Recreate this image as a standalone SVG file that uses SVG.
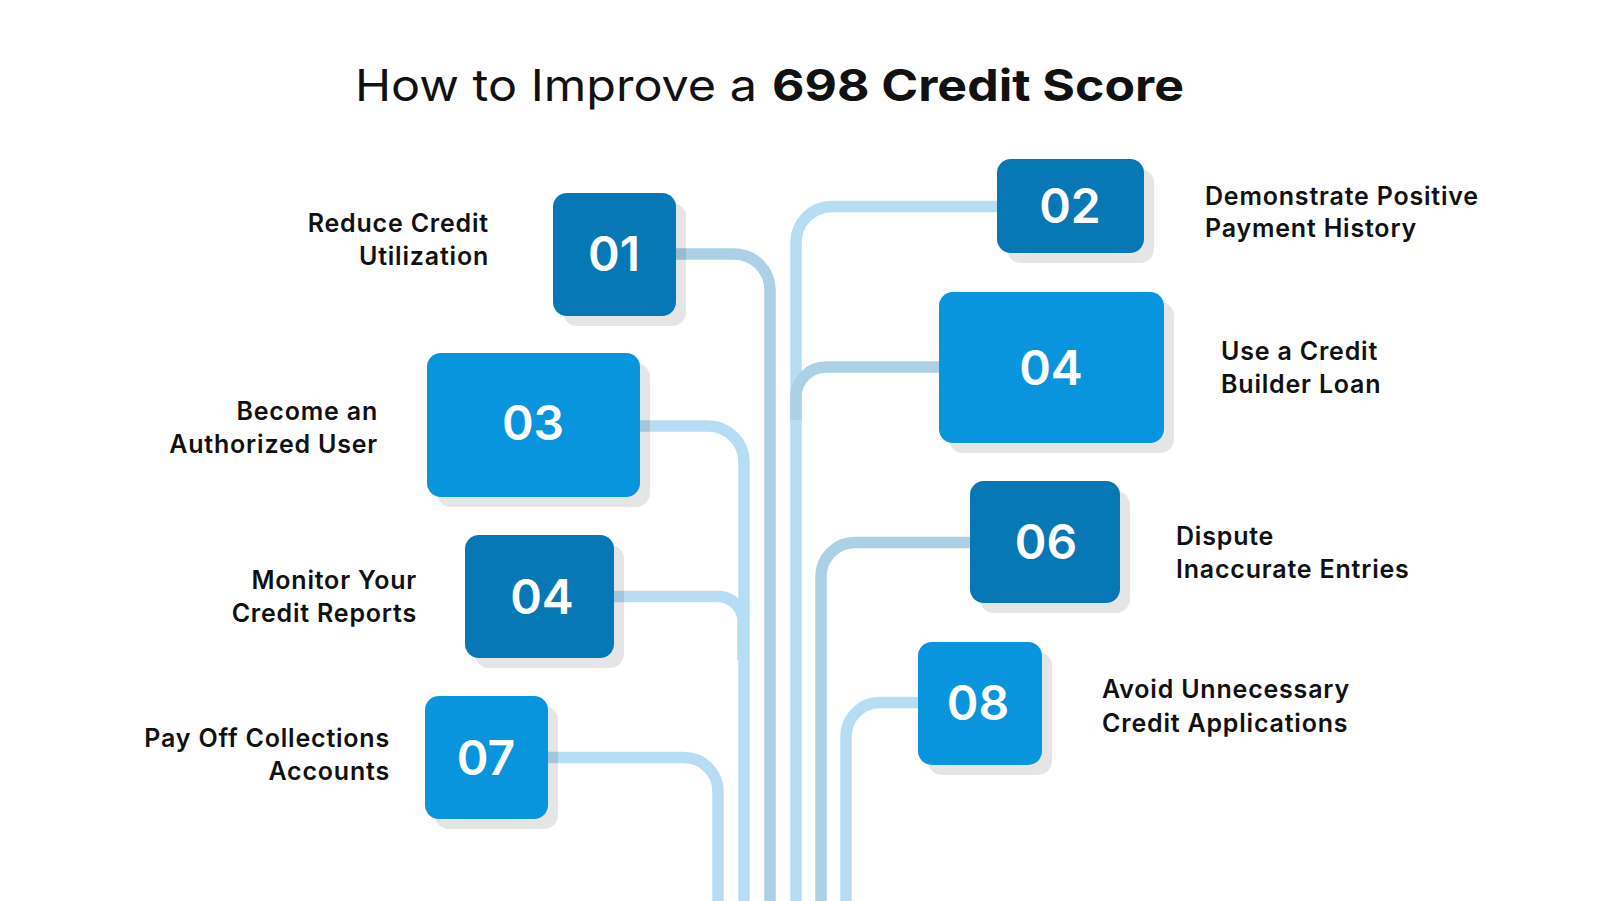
<svg xmlns="http://www.w3.org/2000/svg" width="1600" height="901" viewBox="0 0 1600 901">
<style>
.title{font-family:Inter,"Liberation Sans",sans-serif;font-size:44px;fill:#111}
.lbl{font-family:Inter,"Liberation Sans",sans-serif;font-size:25px;font-weight:600;letter-spacing:0.8px;fill:#111}
.num{font-family:Inter,"Liberation Sans",sans-serif;font-size:48px;font-weight:600;fill:#fff;text-anchor:middle}
.ln{fill:none;stroke:#b6ddf3;stroke-width:11.5}
.ln2{fill:none;stroke:#acd1e6;stroke-width:11.5}
.sh{fill:#000;fill-opacity:0.1}
.dk{fill:#0877b5}
.lt{fill:#0995dd}
.r{text-anchor:end}
</style>
<rect width="1600" height="901" fill="#fff"/>
<text class="title" x="355" y="101" textLength="402" lengthAdjust="spacingAndGlyphs">How to Improve a</text>
<text class="title" x="772" y="101" font-weight="700" textLength="412" lengthAdjust="spacingAndGlyphs">698 Credit Score</text>
<g id="connectors">
<path class="ln2" d="M660 254 H734 A36 36 0 0 1 770 290 V905"/>
<path class="ln" d="M620 426 H708 A36 36 0 0 1 744 462 V905"/>
<path class="ln" d="M600 596.5 H718 A25 25 0 0 1 743 621.5 V660"/>
<path class="ln" d="M530 757.5 H684 A34 34 0 0 1 718 791.5 V905"/>
<path class="ln" d="M1010 206.5 H832 A36 36 0 0 0 796 242.5 V905"/>
<path class="ln2" d="M950 367 H826 A30 30 0 0 0 796 397 V420"/>
<path class="ln2" d="M990 542.5 H855 A34 34 0 0 0 821 576.5 V905"/>
<path class="ln" d="M930 702.5 H880 A34 34 0 0 0 846 736.5 V905"/>
</g>
<g id="node01">
<rect class="sh" x="563" y="203" width="123" height="123" rx="14"/>
<rect class="dk" x="553" y="193" width="123" height="123" rx="14"/>
<text class="num" x="614" y="271">01</text>
<text class="lbl r" x="489" y="232">Reduce Credit</text>
<text class="lbl r" x="489" y="265">Utilization</text>
</g>
<g id="node02">
<rect class="sh" x="1007" y="169" width="147" height="94" rx="14"/>
<rect class="dk" x="997" y="159" width="147" height="94" rx="14"/>
<text class="num" x="1070" y="223">02</text>
<text class="lbl" x="1205" y="205">Demonstrate Positive</text>
<text class="lbl" x="1205" y="237">Payment History</text>
</g>
<g id="node03">
<rect class="sh" x="437" y="363" width="213" height="144" rx="14"/>
<rect class="lt" x="427" y="353" width="213" height="144" rx="14"/>
<text class="num" x="533" y="440">03</text>
<text class="lbl r" x="378" y="420">Become an</text>
<text class="lbl r" x="378" y="453">Authorized User</text>
</g>
<g id="node04r">
<rect class="sh" x="949" y="302" width="225" height="151" rx="14"/>
<rect class="lt" x="939" y="292" width="225" height="151" rx="14"/>
<text class="num" x="1051" y="385">04</text>
<text class="lbl" x="1221" y="360">Use a Credit</text>
<text class="lbl" x="1221" y="393">Builder Loan</text>
</g>
<g id="node04l">
<rect class="sh" x="475" y="545" width="149" height="123" rx="14"/>
<rect class="dk" x="465" y="535" width="149" height="123" rx="14"/>
<text class="num" x="542" y="614">04</text>
<text class="lbl r" x="417" y="589">Monitor Your</text>
<text class="lbl r" x="417" y="622">Credit Reports</text>
</g>
<g id="node06">
<rect class="sh" x="980" y="491" width="150" height="122" rx="14"/>
<rect class="dk" x="970" y="481" width="150" height="122" rx="14"/>
<text class="num" x="1046" y="559">06</text>
<text class="lbl" x="1176" y="545">Dispute</text>
<text class="lbl" x="1176" y="578">Inaccurate Entries</text>
</g>
<g id="node07">
<rect class="sh" x="435" y="706" width="123" height="123" rx="14"/>
<rect class="lt" x="425" y="696" width="123" height="123" rx="14"/>
<text class="num" x="486" y="775">07</text>
<text class="lbl r" x="390" y="747">Pay Off Collections</text>
<text class="lbl r" x="390" y="780">Accounts</text>
</g>
<g id="node08">
<rect class="sh" x="928" y="652" width="124" height="123" rx="14"/>
<rect class="lt" x="918" y="642" width="124" height="123" rx="14"/>
<text class="num" x="978" y="720">08</text>
<text class="lbl" x="1102" y="698">Avoid Unnecessary</text>
<text class="lbl" x="1102" y="732">Credit Applications</text>
</g>
</svg>
